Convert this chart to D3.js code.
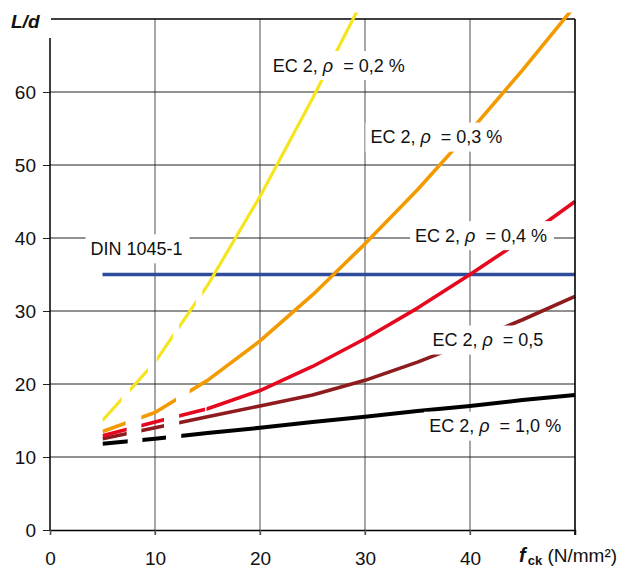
<!DOCTYPE html>
<html>
<head>
<meta charset="utf-8">
<script src="https://cdn.jsdelivr.net/npm/d3@7"></script>
<style>
  body { margin: 0; background: #fff; }
  svg { display: block; font-family: Arial, "Liberation Sans", sans-serif; }
</style>
</head>
<body>
<svg id="chart" width="636" height="568"></svg>
<script>
// slenderness limit L/d over concrete strength f_ck
const fck = [5, 10, 15, 20, 25, 30, 35, 40, 45, 50];
const rho02 = [15.0, 23.0, 33.5, 45.7, 59.1, 73.2];          // only up to 30, runs off the top
const rho03 = [13.5, 16.1, 20.5, 25.9, 32.2, 39.2, 46.6, 54.6, 63.0, 71.8];
const rho04 = [12.9, 14.8, 16.6, 19.1, 22.4, 26.2, 30.4, 35.0, 39.8, 45.0];
const rho05 = [12.5, 14.0, 15.5, 17.0, 18.5, 20.5, 23.0, 25.8, 28.8, 32.0];
const rho10 = [11.8, 12.5, 13.3, 14.0, 14.8, 15.5, 16.3, 17.0, 17.8, 18.5];
const dinX = [5, 50];
const dinY = [35, 35];

const xTicks = [0, 10, 20, 30, 40, 50];
const xTickLabels = ["0", "10", "20", "30", "40", ""];
const yTicks = [0, 10, 20, 30, 40, 50, 60];

let svg = d3.select("#chart");
let x = d3.scaleLinear().domain([0, 50]).range([50, 575]);
let y = d3.scaleLinear().domain([0, 70]).range([530, 19]);

// visible stretches of each curve (the first part is drawn broken)
let series = [
    {name: "r10", vals: rho10, color: "#000000", width: 4,
     parts: [[5, 7.4], [8.8, 11.05], [12.5, 51]]},
    {name: "r05", vals: rho05, color: "#8e1b1d", width: 3.6,
     parts: [[5, 7.3], [8.7, 10.86], [12.3, 51]]},
    {name: "r04", vals: rho04, color: "#e5081f", width: 3.6,
     parts: [[5, 7.3], [8.7, 10.86], [12.3, 14.76], [14.9, 51]]},
    {name: "r03", vals: rho03, color: "#f39a00", width: 3.6,
     parts: [[5, 7.2], [8.7, 12.0], [13.3, 51]]},
    {name: "r02", vals: rho02, color: "#f6e51e", width: 3.2,
     parts: [[5, 6.83], [7.62, 9.33], [10.16, 11.71], [12.29, 13.9], [14.5, 31]]},
];

// grid
let grid = svg.append("g");
grid.selectAll("line.v")
    .data([10, 20, 30, 40])
    .enter().append("line")
    .attr("x1", d => x(d)).attr("x2", d => x(d))
    .attr("y1", y(70)).attr("y2", y(0) + 5)
    .attr("stroke", "#777").attr("stroke-width", 1.3);
grid.selectAll("line.h")
    .data([10, 20, 30, 40, 50, 60])
    .enter().append("line")
    .attr("x1", x(0)).attr("x2", x(50))
    .attr("y1", d => y(d)).attr("y2", d => y(d))
    .attr("stroke", "#222").attr("stroke-width", 1);
grid.append("line")
    .attr("x1", x(0) + 1).attr("x2", x(50))
    .attr("y1", y(70)).attr("y2", y(70))
    .attr("stroke", "#000").attr("stroke-width", 1.3);

let defs = svg.append("defs");
let line = d3.line().x(d => x(d[0])).y(d => y(d[1]));

// DIN 1045-1 constant limit
svg.append("path")
    .datum(d3.zip(dinX, dinY))
    .attr("d", line)
    .attr("fill", "none")
    .attr("stroke", "#2e4b9c")
    .attr("stroke-width", 3.6);

series.forEach(s => {
    let clip = defs.append("clipPath").attr("id", "clip-" + s.name);
    clip.selectAll("rect")
        .data(s.parts)
        .enter().append("rect")
        .attr("x", d => x(d[0]))
        .attr("width", d => Math.min(x(d[1]), x(50) + 2) - x(d[0]))
        .attr("y", y(70.9))
        .attr("height", y(0) - y(70.9));
    svg.append("path")
        .datum(s.vals.map((v, i) => [fck[i], v]))
        .attr("d", line)
        .attr("clip-path", `url(#clip-${s.name})`)
        .attr("fill", "none")
        .attr("stroke", s.color)
        .attr("stroke-width", s.width)
        .attr("stroke-linejoin", "round");
});

// curve labels on white boxes
let labels = [
    {pre: "EC 2, ", post: "\u00a0\u00a0= 0,2 %", x: 27.5, y: 62.8},
    {pre: "EC 2, ", post: "\u00a0\u00a0= 0,3 %", x: 36.8, y: 53.0},
    {pre: "EC 2, ", post: "\u00a0\u00a0= 0,4 %", x: 41.05, y: 39.5},
    {pre: "EC 2, ", post: "\u00a0\u00a0= 0,5", x: 41.7, y: 25.2},
    {pre: "EC 2, ", post: "\u00a0\u00a0= 1,0 %", x: 42.4, y: 13.4},
    {pre: "DIN 1045-1", post: null, x: 8.24, y: 37.7},
];
labels.forEach(l => {
    let g = svg.append("g");
    let box = g.append("rect").attr("fill", "#fff");
    let t = g.append("text")
        .attr("x", x(l.x)).attr("y", y(l.y))
        .attr("text-anchor", "middle")
        .attr("font-size", 18)
        .attr("fill", "#111");
    t.append("tspan").text(l.pre);
    if (l.post !== null) {
        t.append("tspan").attr("font-style", "italic").text("\u03c1");
        t.append("tspan").text(l.post);
    }
    let bb = t.node().getBBox();
    box.attr("x", bb.x - 5).attr("y", bb.y - 4.5)
        .attr("width", bb.width + 12).attr("height", bb.height + 9);
});

// axes
let xAxis = svg.append("g")
    .attr("transform", `translate(0, ${y(0)})`)
    .call(d3.axisBottom(x).tickValues(xTicks).tickSize(5)
        .tickFormat((d, i) => xTickLabels[i]));
xAxis.select(".domain").attr("stroke", "#000").attr("stroke-width", 1.3);
xAxis.selectAll(".tick line").attr("stroke", "#555").attr("stroke-width", 1.3);
xAxis.selectAll("text")
    .attr("y", 35).attr("dy", 0)
    .attr("font-size", 19)
    .attr("font-family", "Arial, 'Liberation Sans', sans-serif")
    .attr("fill", "#111");

let yAxis = svg.append("g")
    .attr("transform", `translate(${x(0)}, 0)`)
    .call(d3.axisLeft(y).tickValues(yTicks).tickSize(7));
yAxis.select(".domain").remove();
yAxis.selectAll(".tick line").attr("stroke", "#222");
yAxis.selectAll("text")
    .attr("x", -14)
    .attr("font-size", 19)
    .attr("font-family", "Arial, 'Liberation Sans', sans-serif")
    .attr("fill", "#111");

svg.append("line")
    .attr("x1", x(0)).attr("x2", x(0))
    .attr("y1", y(67.4)).attr("y2", y(0))
    .attr("stroke", "#000").attr("stroke-width", 1.5);
svg.append("line")
    .attr("x1", x(50)).attr("x2", x(50))
    .attr("y1", y(70)).attr("y2", y(0) + 5)
    .attr("stroke", "#000").attr("stroke-width", 1.6);

// axis titles
svg.append("text")
    .attr("x", 11).attr("y", 28)
    .attr("font-size", 19)
    .attr("font-weight", "bold")
    .attr("font-style", "italic")
    .attr("fill", "#111")
    .text("L/d");

let xt = svg.append("text")
    .attr("x", 519).attr("y", 562)
    .attr("font-size", 19)
    .attr("fill", "#111");
xt.append("tspan").attr("font-weight", "bold").attr("font-style", "italic").attr("font-size", 20).text("f");
xt.append("tspan").attr("font-weight", "bold").attr("font-size", 13).attr("dy", 2.5).attr("dx", 2).text("ck");
xt.append("tspan").attr("dy", -2.5).text(" (N/mm\u00b2)");
</script>
</body>
</html>
